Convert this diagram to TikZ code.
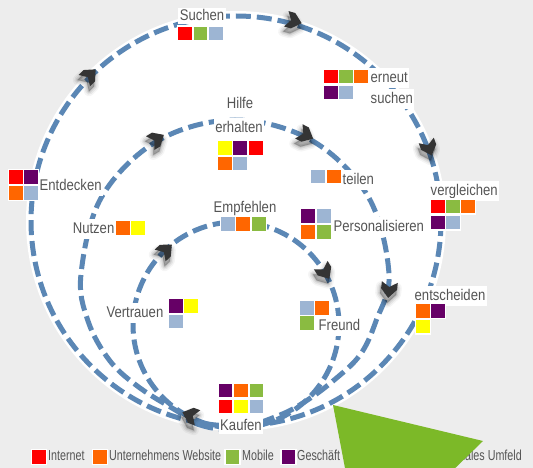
\documentclass[tikz,border=0pt]{standalone}
\usepackage{fontspec}
\setmainfont{Liberation Sans}
\newfontfamily\lblfont[FakeStretch=0.845]{Liberation Sans}
\newfontfamily\legfont[FakeStretch=0.74]{Liberation Sans}
\definecolor{bggray}{RGB}{237,237,237}
\definecolor{dashblue}{RGB}{91,135,181}
\definecolor{txtgray}{RGB}{85,85,85}
\definecolor{cRed}{RGB}{255,0,0}
\definecolor{cOrange}{RGB}{255,102,0}
\definecolor{cGreen}{RGB}{138,187,65}
\definecolor{cPurple}{RGB}{102,0,102}
\definecolor{cYellow}{RGB}{255,255,0}
\definecolor{cBlue}{RGB}{157,181,211}
\definecolor{triGreen}{RGB}{124,185,40}
\definecolor{chevcol}{RGB}{52,52,52}
\tikzset{
  sq/.style={draw=white, line width=1.5pt, fill=#1, minimum size=15pt, inner sep=0pt, outer sep=0pt},
  lbl/.style={text=txtgray, font=\lblfont\fontsize{15.5}{17}\selectfont, fill=white,
              inner xsep=1.5pt, inner ysep=3pt, text height=11.5pt, text depth=3pt},
  leg/.style={text=txtgray, font=\legfont\fontsize{14.5}{16}\selectfont, inner sep=0pt,
              text height=10.5pt, text depth=3pt},
  spiral/.style={draw=dashblue, line width=5pt, dash pattern=on 15pt off 6pt},
}
\newcommand\sqn[4]{\node[sq=#4] (#1) at (#2,#3) {};}
\newcommand\mychev[4]{%
  \begin{scope}[shift={(#2,#3)}]
    \begin{scope}[shift={(-1,5)}, rotate=#4]
      \foreach \w/\o in {10/0.04,7/0.06,4/0.08,1.5/0.1}{%
        \filldraw[black, opacity=\o, line width=\w pt, line join=round]
          (8,0)--(-1,8)--(-8,8)--(-3,0)--(-8,-8)--(-1,-8)--cycle;}
    \end{scope}
    \fill[chevcol, rotate=#4] (8,0)--(-1,8)--(-8,8)--(-3,0)--(-8,-8)--(-1,-8)--cycle;
    \coordinate (#1) at (0,0);
  \end{scope}}
\begin{document}
\begin{tikzpicture}[x=1pt, y=-1pt]
\useasboundingbox (0,0) rectangle (533,468);
\clip (0,0) rectangle (533,468);
\fill[bggray] (0,0) rectangle (533,468);
\fill[white] (236,221) circle[radius=210];

% spiral loops
\draw[spiral] (236,221) circle[radius=205];
\draw[spiral] plot[smooth cycle, tension=0.6] coordinates {
  (236,429) (200,425) (177,411) (140,388) (110,361) (88,321) (81,274)
  (101.6,197) (158,140.6) (235,120) (312,140.6) (368.4,197) (389,274)
  (376,321) (360,355) (333,381) (306,401) (280,415)};
\draw[spiral] (236,325) circle[radius=103];

% chevron arrows
\mychev{arA}{294}{21}{-16}
\mychev{arB}{90}{75}{45}
\mychev{arC}{429}{148}{-70}
\mychev{arD}{190}{415}{160}
\mychev{arE}{157}{139}{31}
\mychev{arF}{306}{135}{-27}
\mychev{arG}{389}{290}{-96}
\mychev{arH}{166}{250}{43}
\mychev{arI}{325}{272}{-58}

% labels
\node[lbl, inner ysep=1pt] (tSuchen) at (202,16) {Suchen};
\node[lbl, anchor=west] (tErneut) at (369,78) {erneut};
\node[lbl, anchor=west] (tSuchenB) at (369,99) {suchen};
\node[lbl, anchor=west] (tVergl) at (429,191) {vergleichen};
\node[lbl, anchor=west] (tEntsch) at (413,296) {entscheiden};
\node[lbl, inner ysep=0.5pt] (tKaufen) at (241,426) {Kaufen};
\node[lbl, anchor=west] (tEntd) at (38,186) {Entdecken};
\node[lbl, anchor=east] (tNutzen) at (116,229) {Nutzen};
\node[lbl] (tHilfe) at (240,104) {Hilfe};
\node[lbl] (tErh) at (239,128) {erhalten};
\node[lbl, anchor=west] (tTeilen) at (341,180) {teilen};
\node[lbl] (tEmpf) at (245,208) {Empfehlen};
\node[lbl, anchor=west] (tPers) at (332,227) {Personalisieren};
\node[lbl, anchor=east] (tVertr) at (165,313) {Vertrauen};
\node[lbl, anchor=west] (tFreund) at (317,326) {Freund};

% colour squares
\sqn{sSu1}{185}{33.5}{cRed}\sqn{sSu2}{200.5}{33.5}{cGreen}\sqn{sSu3}{216}{33.5}{cBlue}
\sqn{sEr1}{331}{76.5}{cRed}\sqn{sEr2}{346}{76.5}{cGreen}\sqn{sEr3}{361}{76.5}{cOrange}
\sqn{sEr4}{331}{92.5}{cPurple}\sqn{sEr5}{346}{92.5}{cBlue}
\sqn{sVe1}{438}{206.5}{cRed}\sqn{sVe2}{453}{206.5}{cGreen}\sqn{sVe3}{468}{206.5}{cOrange}
\sqn{sVe4}{438}{222.5}{cPurple}\sqn{sVe5}{453}{222.5}{cBlue}
\sqn{sEn1}{423}{311}{cOrange}\sqn{sEn2}{438}{311}{cPurple}\sqn{sEn3}{423}{326.5}{cYellow}
\sqn{sKa1}{225.5}{390.5}{cPurple}\sqn{sKa2}{241}{390.5}{cOrange}\sqn{sKa3}{256.5}{390.5}{cGreen}
\sqn{sKa4}{225.5}{406.5}{cRed}\sqn{sKa5}{241}{406.5}{cYellow}\sqn{sKa6}{256.5}{406.5}{cBlue}
\sqn{sEd1}{16}{177}{cRed}\sqn{sEd2}{31}{177}{cPurple}
\sqn{sEd3}{16}{193}{cOrange}\sqn{sEd4}{31}{193}{cBlue}
\sqn{sNu1}{123}{228}{cOrange}\sqn{sNu2}{138}{228}{cYellow}
\sqn{sHi1}{225}{148}{cYellow}\sqn{sHi2}{240}{148}{cPurple}\sqn{sHi3}{256}{148}{cRed}
\sqn{sHi4}{225}{163.5}{cOrange}\sqn{sHi5}{240}{163.5}{cBlue}
\sqn{sTe1}{318}{176.5}{cBlue}\sqn{sTe2}{334}{176.5}{cOrange}
\sqn{sEm1}{228}{224}{cBlue}\sqn{sEm2}{243}{224}{cOrange}\sqn{sEm3}{259}{224}{cGreen}
\sqn{sPe1}{308}{216}{cPurple}\sqn{sPe2}{324}{216}{cBlue}
\sqn{sPe3}{308}{232}{cOrange}\sqn{sPe4}{324}{232}{cGreen}
\sqn{sVt1}{176}{306}{cPurple}\sqn{sVt2}{191}{306}{cYellow}\sqn{sVt3}{176}{321.5}{cBlue}
\sqn{sFr1}{307}{308}{cBlue}\sqn{sFr2}{322}{308}{cOrange}\sqn{sFr3}{307}{323}{cGreen}

% legend
\sqn{lg1}{39}{457}{cRed}
\node[leg, anchor=west] (lt1) at (48,457) {Internet};
\sqn{lg2}{100}{457}{cOrange}
\node[leg, anchor=west] (lt2) at (109,457) {Unternehmens Website};
\sqn{lg3}{232.5}{457}{cGreen}
\node[leg, anchor=west] (lt3) at (242,457) {Mobile};
\sqn{lg4}{288.5}{457}{cPurple}
\node[leg, anchor=west] (lt4) at (297,457) {Geschäft};
\node[leg, anchor=east] (lt6) at (522,457) {Soziales Umfeld};

% green triangle
\fill[triGreen] (333,405) -- (483,441) -- (447,476) -- (346.5,476) -- cycle;
\end{tikzpicture}
\end{document}
